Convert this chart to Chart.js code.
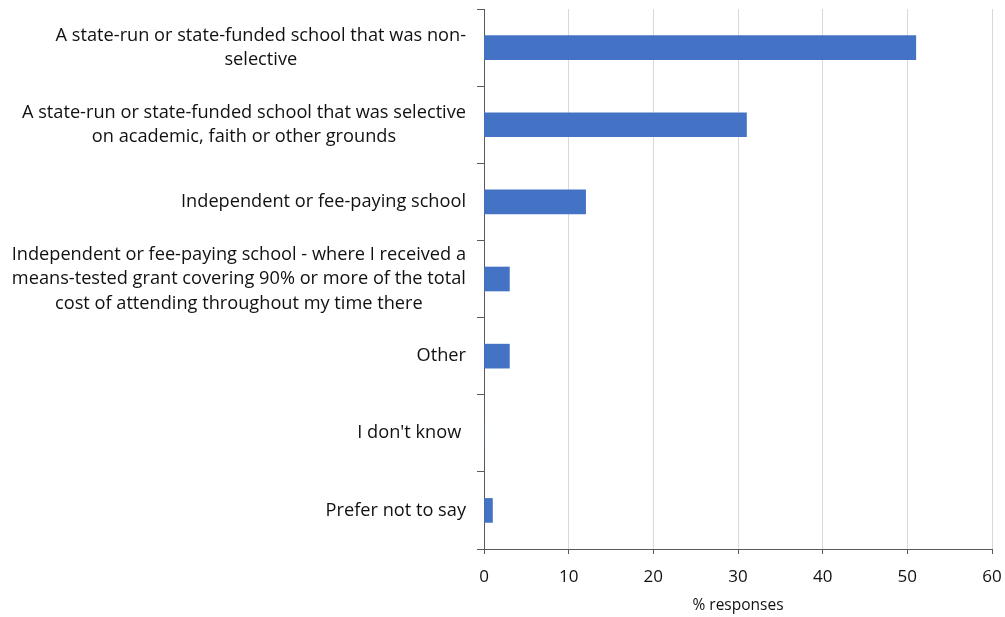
<!DOCTYPE html>
<html><head><meta charset="utf-8">
<script src="https://cdn.jsdelivr.net/npm/chart.js@4/dist/chart.umd.min.js"></script>
<style>html,body{margin:0;padding:0;background:#fff}#wrap{width:1005px;height:617px}</style>
</head><body><div id="wrap"><canvas id="c" width="1005" height="617"></canvas></div>
<script>
const categories = [
  ["A state-run or state-funded school that was non-", "selective"],
  ["A state-run or state-funded school that was selective", "on academic, faith or other grounds"],
  ["Independent or fee-paying school"],
  ["Independent or fee-paying school - where I received a", "means-tested grant covering 90% or more of the total", "cost of attending throughout my time there"],
  ["Other"],
  ["I don't know "],
  ["Prefer not to say"]
];
const values = [51, 31, 12, 3, 3, 0, 1];
const xTicks = [0, 10, 20, 30, 40, 50, 60];
const axisTitle = "% responses";

const FONT = "'Open Sans', Calibri, sans-serif";

const labelPlugin = {
  id: 'labels',
  afterDraw(chart) {
    const ctx = chart.ctx, ys = chart.scales.y;
    ctx.save();
    ctx.font = "18.2px " + FONT;
    ctx.fillStyle = "#111";
    ctx.textAlign = "center";
    ctx.textBaseline = "middle";
    const right = ys.right - 18;
    const lh = 24.5;
    categories.forEach((lines, i) => {
      const w = Math.max(...lines.map(l => ctx.measureText(l).width));
      const cx = right - w / 2;
      const yc = ys.getPixelForValue(i);
      lines.forEach((l, j) => {
        ctx.fillText(l, cx, yc + (j - (lines.length - 1) / 2) * lh);
      });
    });
    ctx.restore();
  }
};

new Chart(document.getElementById('c'), {
  type: 'bar',
  data: {
    labels: categories.map(c => c.join(' ')),
    datasets: [{ data: values, backgroundColor: '#4472C4', borderWidth: 0, barThickness: 24 }]
  },
  options: {
    indexAxis: 'y',
    responsive: false,
    animation: false,
    layout: { padding: { top: 9, right: 13, left: 0, bottom: 0 } },
    plugins: { legend: { display: false }, tooltip: { enabled: false } },
    scales: {
      x: {
        min: 0, max: 60,
        afterBuildTicks(s) { s.ticks = xTicks.map(v => ({ value: v })); },
        afterFit(s) { s.height = 68; s.paddingRight = 0; s.paddingLeft = 0; },
        grid: { color: '#d9d9d9', tickColor: '#595959', tickLength: 5, lineWidth: 1 },
        border: { color: '#595959', width: 1 },
        ticks: { color: '#111', font: { size: 17, family: FONT }, padding: 13 },
        title: { display: true, text: axisTitle, color: '#111', font: { size: 15.5, family: FONT }, padding: { top: 2, bottom: 2 } }
      },
      y: {
        afterFit(s) { s.width = 484; },
        grid: { display: true, drawOnChartArea: false, offset: true, tickColor: '#595959', tickLength: 7 },
        border: { color: '#595959', width: 1 },
        ticks: { display: false }
      }
    }
  },
  plugins: [labelPlugin]
});
</script>
</body></html>
